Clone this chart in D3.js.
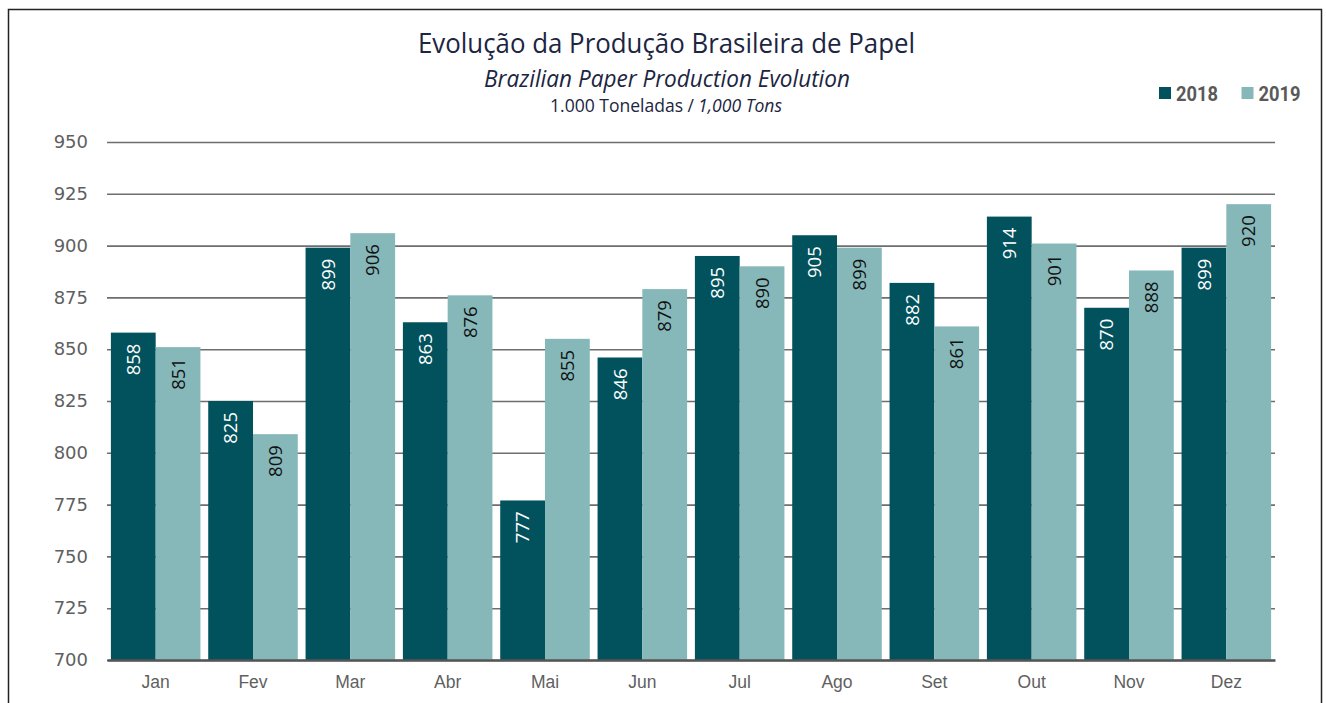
<!DOCTYPE html>
<html>
<head>
<meta charset="utf-8">
<script src="https://cdn.jsdelivr.net/npm/d3@7"></script>
<style>
  body { margin: 0; background: #fff; }
  svg { display: block; }
</style>
</head>
<body>
<div id="chart"></div>
<script>
let width = 1326;
let height = 703;
let margin = ({top: 142, right: 51, bottom: 43, left: 107});

// Data
let months = ["Jan", "Fev", "Mar", "Abr", "Mai", "Jun", "Jul", "Ago", "Set", "Out", "Nov", "Dez"];
let years = ["2018", "2019"];
let values2018 = [858, 825, 899, 863, 777, 846, 895, 905, 882, 914, 870, 899];
let values2019 = [851, 809, 906, 876, 855, 879, 890, 899, 861, 901, 888, 920];
let yTicks = [700, 725, 750, 775, 800, 825, 850, 875, 900, 925, 950];

let colors = d3.scaleOrdinal().domain(years).range(["#02525d", "#86b8ba"]);
let labelColors = {"2018": "#ffffff", "2019": "#111111"};

let rows = [];
months.forEach(function(m, i) {
    rows.push({month: m, year: "2018", value: values2018[i]});
    rows.push({month: m, year: "2019", value: values2019[i]});
});

let svg = d3.select("#chart")
    .append("svg")
    .attr("width", width)
    .attr("height", height);

// outer frame
svg.append("rect")
    .attr("x", 8.5)
    .attr("y", 9.5)
    .attr("width", 1313)
    .attr("height", 720)
    .attr("fill", "none")
    .attr("stroke", "#222")
    .attr("stroke-width", 1.5);

let xScale = d3.scaleBand()
    .domain(months)
    .range([margin.left, width - margin.right])
    .paddingInner(0.08)
    .paddingOuter(0.04);

let xInner = d3.scaleBand()
    .domain(years)
    .range([0, xScale.bandwidth()]);

let yScale = d3.scaleLinear()
    .domain([700, 950])
    .range([height - margin.bottom, margin.top]);

// Gridlines + y labels
let yAxis = d3.axisLeft(yScale)
    .tickValues(yTicks)
    .tickSize(-(width - margin.left - margin.right))
    .tickPadding(19);

let gy = svg.append("g")
    .attr("transform", "translate(" + margin.left + ",0)")
    .call(yAxis);
gy.select(".domain").remove();
gy.selectAll(".tick line")
    .attr("stroke", "#6e6e6e")
    .attr("stroke-width", 1.6);
gy.selectAll(".tick text")
    .attr("fill", "#5f5f5f")
    .style("font-family", "DejaVu Sans")
    .style("font-size", "18px");

// Bars
svg.append("g").selectAll("rect")
    .data(rows)
    .join("rect")
    .attr("x", function(d) { return xScale(d.month) + xInner(d.year); })
    .attr("y", function(d) { return yScale(d.value); })
    .attr("width", xInner.bandwidth())
    .attr("height", function(d) { return yScale(700) - yScale(d.value); })
    .attr("fill", function(d) { return colors(d.year); });

// Value labels, rotated
svg.append("g").selectAll("text")
    .data(rows)
    .join("text")
    .attr("transform", function(d) {
        let cx = xScale(d.month) + xInner(d.year) + xInner.bandwidth() / 2;
        let cy = yScale(d.value) + 11;
        return "translate(" + cx + "," + cy + ") rotate(-90)";
    })
    .attr("text-anchor", "end")
    .attr("dy", "0.36em")
    .attr("fill", function(d) { return labelColors[d.year]; })
    .style("font-family", "Open Sans")
    .style("font-size", "18.5px")
    .text(function(d) { return d.value; });

// X axis
let xAxis = d3.axisBottom(xScale).tickSize(0).tickPadding(16);
let gx = svg.append("g")
    .attr("transform", "translate(0," + (height - margin.bottom) + ")")
    .call(xAxis);
gx.select(".domain")
    .attr("stroke", "#555")
    .attr("stroke-width", 2.5);
gx.selectAll(".tick text")
    .attr("fill", "#5f5f5f")
    .style("font-family", "Liberation Sans")
    .style("font-size", "17.5px");

// Titles
svg.append("text")
    .attr("x", 418)
    .attr("y", 53)
    .attr("textLength", 497)
    .attr("lengthAdjust", "spacingAndGlyphs")
    .attr("fill", "#1c2541")
    .style("font-family", "Open Sans")
    .style("font-size", "27px")
    .text("Evolução da Produção Brasileira de Papel");

svg.append("text")
    .attr("x", 484)
    .attr("y", 87)
    .attr("textLength", 366)
    .attr("lengthAdjust", "spacingAndGlyphs")
    .attr("fill", "#1c2541")
    .style("font-family", "Open Sans")
    .style("font-style", "italic")
    .style("font-size", "23px")
    .text("Brazilian Paper Production Evolution");

svg.append("text")
    .attr("x", 550)
    .attr("y", 111.5)
    .attr("textLength", 144)
    .attr("lengthAdjust", "spacingAndGlyphs")
    .attr("fill", "#1c2541")
    .style("font-family", "Open Sans")
    .style("font-size", "19px")
    .text("1.000 Toneladas /");

svg.append("text")
    .attr("x", 698)
    .attr("y", 111.5)
    .attr("textLength", 84)
    .attr("lengthAdjust", "spacingAndGlyphs")
    .attr("fill", "#1c2541")
    .style("font-family", "Open Sans")
    .style("font-style", "italic")
    .style("font-size", "19px")
    .text("1,000 Tons");

// Legend
let legendX = [1159, 1241.5];
let legend = svg.append("g").selectAll("g")
    .data(years)
    .join("g")
    .attr("transform", function(d, i) { return "translate(" + legendX[i] + ",87)"; });

legend.append("rect")
    .attr("width", 12)
    .attr("height", 12)
    .attr("fill", function(d) { return colors(d); });

legend.append("text")
    .attr("x", 17)
    .attr("y", 13.7)
    .attr("textLength", 42)
    .attr("lengthAdjust", "spacingAndGlyphs")
    .attr("fill", "#595959")
    .style("font-family", "Roboto")
    .style("font-weight", "bold")
    .style("font-size", "20px")
    .text(function(d) { return d; });
</script>
</body>
</html>
